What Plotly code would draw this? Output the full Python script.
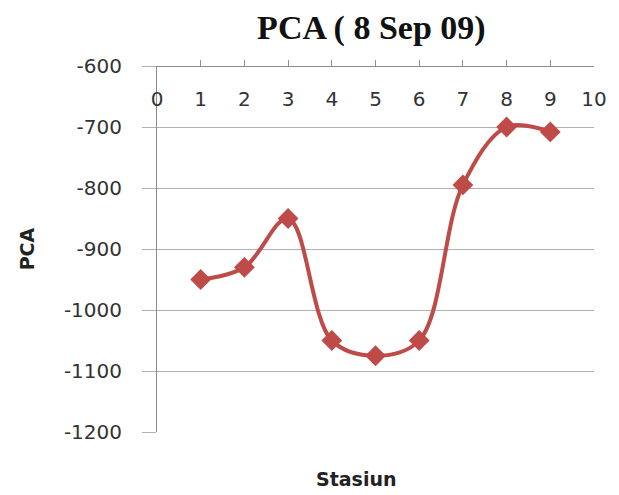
import plotly.graph_objects as go

# Station numbers and PCA readings
stasiun = [1, 2, 3, 4, 5, 6, 7, 8, 9]
pca = [-950, -930, -850, -1050, -1075, -1050, -795, -700, -708]

x_ticks = list(range(0, 11))
y_ticks = [-600, -700, -800, -900, -1000, -1100, -1200]

red = "#BE4B48"
grid = "#b0b0b0"
axis_grey = "#8c8c8c"
tick_font = dict(family="DejaVu Sans", size=20, color="#333333")

fig = go.Figure()
fig.add_trace(go.Scatter(
    x=stasiun, y=pca,
    mode="lines+markers",
    line=dict(color=red, width=4, shape="spline", smoothing=1.0),
    marker=dict(symbol="diamond", size=16, color=red),
    showlegend=False,
))

fig.update_layout(
    width=619, height=495,
    margin=dict(l=157, r=21, t=66, b=63),
    paper_bgcolor="white", plot_bgcolor="white",
    title=dict(text="<b>PCA ( 8 Sep 09)</b>", x=0.6, xanchor="center",
               y=0.945, yanchor="middle",
               font=dict(family="Liberation Serif", size=34, color="#111111")),
    # horizontal axis sits along the top edge, labels hanging below it
    xaxis=dict(
        range=[0, 10], anchor="free", position=1.0, side="bottom",
        tickvals=x_ticks, ticktext=[str(v) for v in x_ticks],
        ticks="inside", ticklen=6, tickcolor=axis_grey,
        ticklabelstandoff=15,
        showline=True, linecolor=axis_grey, linewidth=1,
        showgrid=False, zeroline=False,
        tickfont=tick_font,
    ),
    yaxis=dict(
        range=[-1200, -600], tickvals=y_ticks,
        ticktext=[str(v) for v in y_ticks],
        ticks="outside", ticklen=14, tickcolor=grid,
        ticklabelstandoff=16,
        showgrid=True, gridcolor=grid, gridwidth=1,
        showline=True, linecolor=axis_grey, linewidth=1,
        zeroline=False,
        tickfont=tick_font,
        title=dict(text="<b>PCA</b>", standoff=24,
                   font=dict(family="DejaVu Sans", size=19, color="#222222")),
    ),
    annotations=[dict(
        text="<b>Stasiun</b>", xref="paper", yref="paper",
        x=0.456, y=-0.128, xanchor="center", yanchor="middle",
        showarrow=False,
        font=dict(family="DejaVu Sans", size=19, color="#222222"),
    )],
)

fig.write_html("out.html")
